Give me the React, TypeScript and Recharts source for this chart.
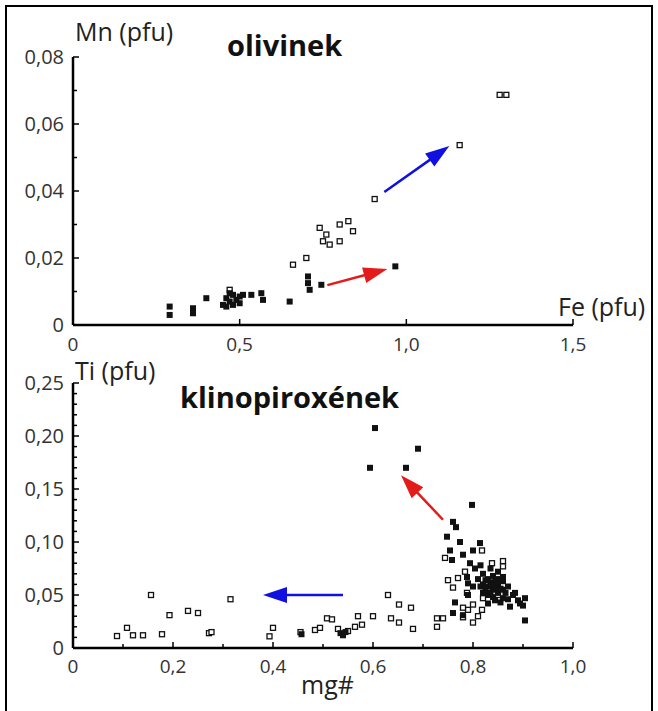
import { ReferenceLine, Scatter, ScatterChart, XAxis, YAxis } from 'recharts';

// olivinek: Fe (pfu) vs Mn (pfu)
const olivFilled = [
  { x: 0.29, y: 0.0055 }, { x: 0.29, y: 0.003 }, { x: 0.36, y: 0.005 }, { x: 0.36, y: 0.0035 },
  { x: 0.4, y: 0.008 }, { x: 0.45, y: 0.006 }, { x: 0.46, y: 0.008 }, { x: 0.47, y: 0.0095 },
  { x: 0.47, y: 0.007 }, { x: 0.48, y: 0.006 }, { x: 0.48, y: 0.009 }, { x: 0.49, y: 0.0075 },
  { x: 0.5, y: 0.0085 }, { x: 0.46, y: 0.0055 }, { x: 0.51, y: 0.009 }, { x: 0.5, y: 0.0065 },
  { x: 0.535, y: 0.009 }, { x: 0.565, y: 0.0095 }, { x: 0.57, y: 0.0075 }, { x: 0.65, y: 0.007 },
  { x: 0.705, y: 0.0145 }, { x: 0.705, y: 0.0125 }, { x: 0.71, y: 0.0105 }, { x: 0.745, y: 0.012 },
  { x: 0.967, y: 0.0175 },
];
const olivOpen = [
  { x: 0.47, y: 0.0105 }, { x: 0.66, y: 0.018 }, { x: 0.7, y: 0.02 }, { x: 0.74, y: 0.029 },
  { x: 0.75, y: 0.025 }, { x: 0.76, y: 0.027 }, { x: 0.77, y: 0.024 }, { x: 0.8, y: 0.03 },
  { x: 0.8, y: 0.025 }, { x: 0.826, y: 0.031 }, { x: 0.84, y: 0.028 }, { x: 0.905, y: 0.0376 },
  { x: 1.16, y: 0.0537 }, { x: 1.28, y: 0.0687 }, { x: 1.3, y: 0.0687 },
];
const olivBlueArrow = [{ x: 0.934, y: 0.0397 }, { x: 1.129, y: 0.0534 }];
const olivRedArrow = [{ x: 0.763, y: 0.0119 }, { x: 0.943, y: 0.0167 }];

// klinopiroxének: mg# vs Ti (pfu)
const cpxFilled = [
  { x: 0.594, y: 0.17 }, { x: 0.604, y: 0.2075 }, { x: 0.666, y: 0.17 }, { x: 0.69, y: 0.188 },
  { x: 0.798, y: 0.135 }, { x: 0.76, y: 0.119 }, { x: 0.766, y: 0.114 }, { x: 0.748, y: 0.105 },
  { x: 0.774, y: 0.1 }, { x: 0.754, y: 0.092 }, { x: 0.8, y: 0.092 }, { x: 0.814, y: 0.099 },
  { x: 0.78, y: 0.088 }, { x: 0.758, y: 0.083 }, { x: 0.794, y: 0.08 }, { x: 0.804, y: 0.075 },
  { x: 0.79, y: 0.061 }, { x: 0.788, y: 0.067 }, { x: 0.764, y: 0.043 }, { x: 0.76, y: 0.033 },
  { x: 0.78, y: 0.031 }, { x: 0.82, y: 0.07 }, { x: 0.83, y: 0.065 }, { x: 0.84, y: 0.068 },
  { x: 0.85, y: 0.072 }, { x: 0.82, y: 0.06 }, { x: 0.83, y: 0.058 }, { x: 0.84, y: 0.055 },
  { x: 0.85, y: 0.06 }, { x: 0.86, y: 0.063 }, { x: 0.86, y: 0.067 }, { x: 0.83, y: 0.05 },
  { x: 0.84, y: 0.048 }, { x: 0.85, y: 0.052 }, { x: 0.86, y: 0.055 }, { x: 0.82, y: 0.052 },
  { x: 0.84, y: 0.062 }, { x: 0.835, y: 0.075 }, { x: 0.815, y: 0.078 }, { x: 0.81, y: 0.065 },
  { x: 0.86, y: 0.047 }, { x: 0.87, y: 0.058 }, { x: 0.88, y: 0.05 }, { x: 0.874, y: 0.039 },
  { x: 0.884, y: 0.052 }, { x: 0.894, y: 0.042 }, { x: 0.904, y: 0.047 }, { x: 0.904, y: 0.026 },
  { x: 0.89, y: 0.045 }, { x: 0.844, y: 0.045 }, { x: 0.855, y: 0.043 }, { x: 0.83, y: 0.042 },
  { x: 0.8, y: 0.058 }, { x: 0.79, y: 0.05 }, { x: 0.825, y: 0.055 }, { x: 0.835, y: 0.06 },
  { x: 0.845, y: 0.065 }, { x: 0.845, y: 0.057 }, { x: 0.855, y: 0.065 }, { x: 0.825, y: 0.064 },
  { x: 0.835, y: 0.052 }, { x: 0.855, y: 0.056 }, { x: 0.865, y: 0.052 }, { x: 0.815, y: 0.058 },
  { x: 0.87, y: 0.046 }, { x: 0.9, y: 0.04 }, { x: 0.535, y: 0.014 }, { x: 0.54, y: 0.012 },
  { x: 0.545, y: 0.015 }, { x: 0.457, y: 0.013 },
];
const cpxOpen = [
  { x: 0.088, y: 0.0113 }, { x: 0.108, y: 0.019 }, { x: 0.12, y: 0.012 }, { x: 0.14, y: 0.012 },
  { x: 0.156, y: 0.05 }, { x: 0.178, y: 0.013 }, { x: 0.193, y: 0.031 }, { x: 0.23, y: 0.035 },
  { x: 0.25, y: 0.033 }, { x: 0.272, y: 0.014 }, { x: 0.277, y: 0.015 }, { x: 0.315, y: 0.046 },
  { x: 0.393, y: 0.011 }, { x: 0.4, y: 0.019 }, { x: 0.455, y: 0.015 }, { x: 0.484, y: 0.017 },
  { x: 0.494, y: 0.019 }, { x: 0.508, y: 0.028 }, { x: 0.518, y: 0.027 }, { x: 0.53, y: 0.018 },
  { x: 0.55, y: 0.016 }, { x: 0.564, y: 0.02 }, { x: 0.57, y: 0.03 }, { x: 0.578, y: 0.022 },
  { x: 0.6, y: 0.03 }, { x: 0.63, y: 0.05 }, { x: 0.636, y: 0.028 }, { x: 0.652, y: 0.041 },
  { x: 0.652, y: 0.024 }, { x: 0.676, y: 0.038 }, { x: 0.68, y: 0.018 }, { x: 0.728, y: 0.028 },
  { x: 0.728, y: 0.02 }, { x: 0.74, y: 0.028 }, { x: 0.744, y: 0.085 }, { x: 0.75, y: 0.064 },
  { x: 0.76, y: 0.057 }, { x: 0.77, y: 0.066 }, { x: 0.784, y: 0.072 }, { x: 0.788, y: 0.052 },
  { x: 0.78, y: 0.029 }, { x: 0.8, y: 0.024 }, { x: 0.79, y: 0.036 }, { x: 0.8, y: 0.041 },
  { x: 0.818, y: 0.036 }, { x: 0.82, y: 0.047 }, { x: 0.818, y: 0.092 }, { x: 0.838, y: 0.08 },
  { x: 0.86, y: 0.082 }, { x: 0.86, y: 0.077 }, { x: 0.83, y: 0.055 }, { x: 0.85, y: 0.05 },
  { x: 0.81, y: 0.03 }, { x: 0.78, y: 0.038 },
];
const cpxRedArrow = [{ x: 0.74, y: 0.121 }, { x: 0.656, y: 0.163 }];
const cpxBlueArrow = [{ x: 0.54, y: 0.05 }, { x: 0.38, y: 0.05 }];

// ticks
const feMajor = [0, 0.5, 1, 1.5];
const feLabels = ['0', '0,5', '1,0', '1,5'];
const mnMajor = [0, 0.02, 0.04, 0.06, 0.08];
const mnLabels = ['0', '0,02', '0,04', '0,06', '0,08'];
const mnMinor = [0.01, 0.03, 0.05, 0.07];
const mgMajor = [0, 0.2, 0.4, 0.6, 0.8, 1];
const mgLabels = ['0', '0,2', '0,4', '0,6', '0,8', '1,0'];
const mgMinor = [0.1, 0.3, 0.5, 0.7, 0.9];
const tiMajor = [0, 0.05, 0.1, 0.15, 0.2, 0.25];
const tiLabels = ['0', '0,05', '0,10', '0,15', '0,20', '0,25'];
const tiMinor = [
  0.01, 0.02, 0.03, 0.04, 0.06, 0.07, 0.08, 0.09, 0.11, 0.12, 0.13, 0.14,
  0.16, 0.17, 0.18, 0.19, 0.21, 0.22, 0.23, 0.24,
];

const FONT = '"Open Sans", sans-serif';

const labelFor = (v: number, major: number[], labels: string[]) => {
  const i = major.findIndex((m) => Math.abs(m - v) < 1e-9);
  return i >= 0 ? labels[i] : null;
};

const yTick = (major: number[], labels: string[], margin: number) => (p: any) => {
  const label = labelFor(p.payload.value, major, labels);
  const ax = p.x + margin;
  return (
    <g>
      <line x1={ax} x2={ax + (label ? 6 : 4)} y1={p.y} y2={p.y} stroke="#000" strokeWidth={1.5} />
      {label && (
        <text x={p.x} y={p.y} dy="0.36em" textAnchor="end" fontSize={20} fontFamily={FONT} fill="#333">
          {label}
        </text>
      )}
    </g>
  );
};

const xTick = (major: number[], labels: string[], margin: number) => (p: any) => {
  const label = labelFor(p.payload.value, major, labels);
  const ay = p.y - margin;
  return (
    <g>
      <line x1={p.x} x2={p.x} y1={ay} y2={ay - (label ? 6 : 4)} stroke="#000" strokeWidth={1.5} />
      {label && (
        <text x={p.x} y={p.y} dy="0.71em" textAnchor="middle" fontSize={19} fontFamily={FONT} fill="#333">
          {label}
        </text>
      )}
    </g>
  );
};

const openSquare = (p: any) => (
  <rect x={p.cx - 2.5} y={p.cy - 2.5} width={5} height={5} fill="#fff" stroke="#111" strokeWidth={1.3} />
);
const filledSquare = (p: any) => <rect x={p.cx - 3} y={p.cy - 3} width={6} height={6} fill="#111" />;

const arrow = (color: string) => (p: any) => {
  const { x1, y1, x2, y2 } = p;
  const len = Math.hypot(x2 - x1, y2 - y1) || 1;
  const ux = (x2 - x1) / len;
  const uy = (y2 - y1) / len;
  const head = 24;
  const half = 8;
  const bx = x2 - ux * head;
  const by = y2 - uy * head;
  const pts = `${x2},${y2} ${bx - uy * half},${by + ux * half} ${bx + uy * half},${by - ux * half}`;
  return (
    <g>
      <line x1={x1} y1={y1} x2={bx + ux * 4} y2={by + uy * 4} stroke={color} strokeWidth={2.5} />
      <polygon points={pts} fill={color} />
    </g>
  );
};

const axisLine = { stroke: '#000', strokeWidth: 2.5 };

export default function App() {
  return (
    <div style={{ position: 'absolute', left: 0, top: 0, width: 658, height: 711, overflow: 'hidden', background: '#fff' }}>
      <div
        style={{
          position: 'absolute', left: 5, top: 5, width: 648, height: 706,
          border: '2px solid #000', borderBottom: 'none', boxSizing: 'border-box',
        }}
      />
      <div style={{ position: 'absolute', left: 0, top: 0 }}>
        <ScatterChart width={658} height={360} margin={{ top: 57, right: 85, bottom: 10, left: 0 }}>
          <XAxis
            type="number" dataKey="x" domain={[0, 1.5]} ticks={feMajor} interval={0}
            height={25} tickSize={0} tickMargin={13} axisLine={axisLine} tickLine={false}
            tick={xTick(feMajor, feLabels, 13)}
          />
          <YAxis
            type="number" dataKey="y" domain={[0, 0.08]} ticks={[...mnMajor, ...mnMinor].sort((a, b) => a - b)}
            interval={0} width={73} tickSize={0} tickMargin={9} axisLine={axisLine} tickLine={false}
            tick={yTick(mnMajor, mnLabels, 9)}
          />
          <Scatter data={olivOpen} shape={openSquare} isAnimationActive={false} />
          <Scatter data={olivFilled} shape={filledSquare} isAnimationActive={false} />
          <ReferenceLine segment={olivBlueArrow} shape={arrow('#1010e0')} />
          <ReferenceLine segment={olivRedArrow} shape={arrow('#e31b1b')} />
        </ScatterChart>
      </div>
      <div style={{ position: 'absolute', left: 0, top: 350 }}>
        <ScatterChart width={658} height={361} margin={{ top: 33, right: 85, bottom: 38, left: 0 }}>
          <XAxis
            type="number" dataKey="x" domain={[0, 1]} ticks={[...mgMajor, ...mgMinor].sort((a, b) => a - b)}
            interval={0} height={25} tickSize={0} tickMargin={12} axisLine={axisLine} tickLine={false}
            tick={xTick(mgMajor, mgLabels, 12)}
          />
          <YAxis
            type="number" dataKey="y" domain={[0, 0.25]} ticks={[...tiMajor, ...tiMinor].sort((a, b) => a - b)}
            interval={0} width={73} tickSize={0} tickMargin={9} axisLine={axisLine} tickLine={false}
            tick={yTick(tiMajor, tiLabels, 9)}
          />
          <Scatter data={cpxOpen} shape={openSquare} isAnimationActive={false} />
          <Scatter data={cpxFilled} shape={filledSquare} isAnimationActive={false} />
          <ReferenceLine segment={cpxRedArrow} shape={arrow('#e31b1b')} />
          <ReferenceLine segment={cpxBlueArrow} shape={arrow('#1010e0')} />
        </ScatterChart>
      </div>
      <svg width={658} height={711} style={{ position: 'absolute', left: 0, top: 0, pointerEvents: 'none' }}>
        <g fontFamily={FONT} fill="#222">
          <text x={75} y={41} fontSize={25}>Mn (pfu)</text>
          <text x={227} y={56} fontSize={29} fontWeight="bold" fill="#111">olivinek</text>
          <text x={558} y={316} fontSize={25}>Fe (pfu)</text>
          <text x={75} y={380} fontSize={25}>Ti (pfu)</text>
          <text x={180} y={408} fontSize={29} fontWeight="bold" fill="#111">klinopiroxének</text>
          <text x={301} y={694} fontSize={25}>mg#</text>
        </g>
      </svg>
    </div>
  );
}
